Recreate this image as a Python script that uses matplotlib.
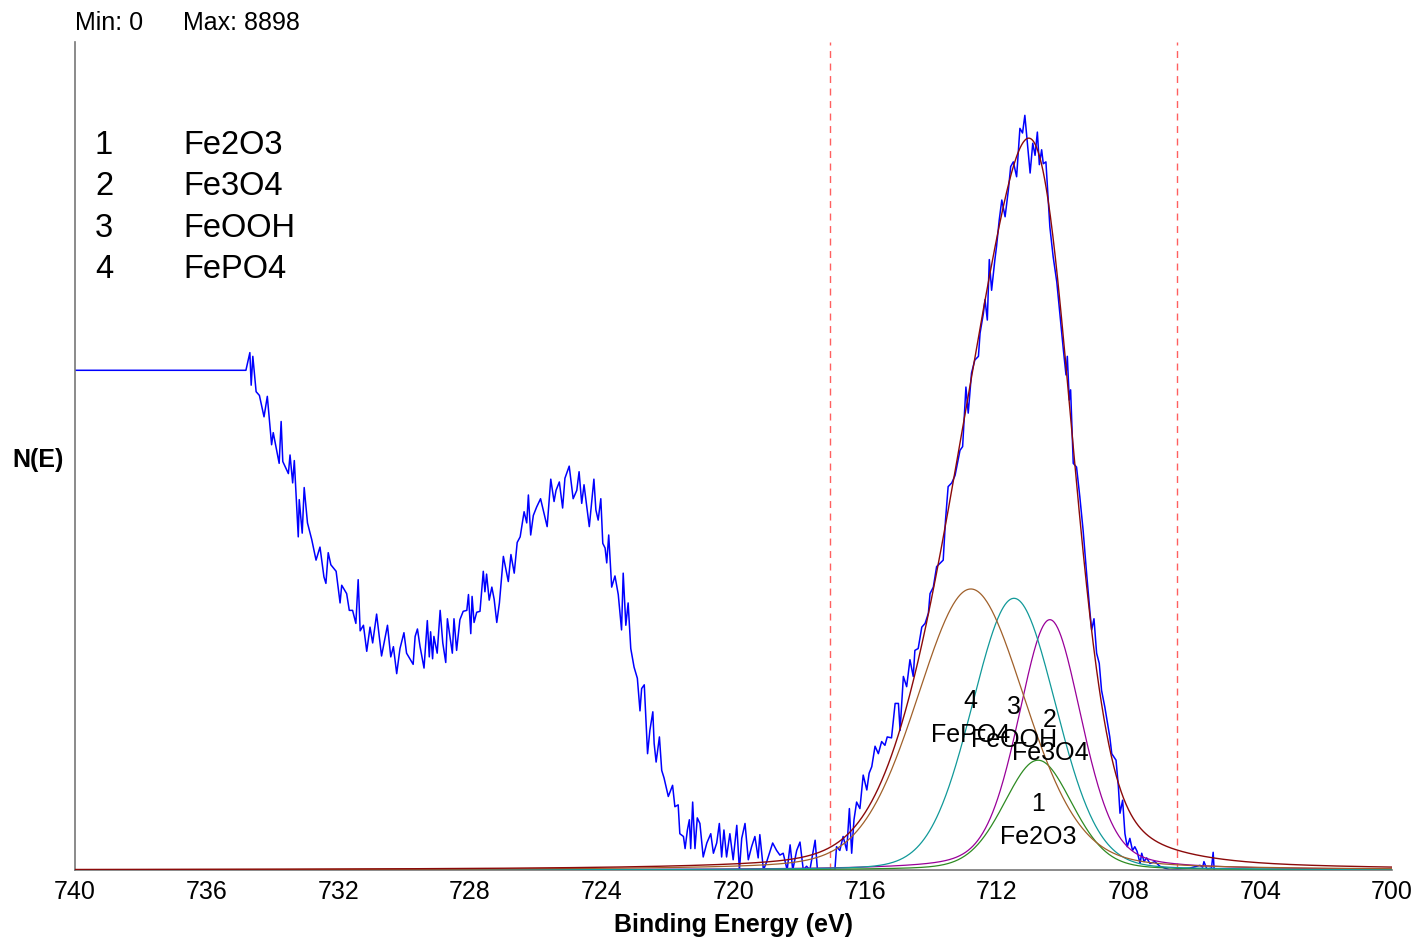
import numpy as np
import matplotlib
matplotlib.use("Agg")
import matplotlib.pyplot as plt

plt.rcParams['font.family'] = ['Liberation Sans', 'DejaVu Sans']

# measured spectrum (binding energy in eV, counts)
be = [740.0, 734.85, 734.81, 734.69, 734.65, 734.60, 734.50, 734.40, 734.26, 734.16, 734.03, 733.98,
      733.80, 733.74, 733.69, 733.52, 733.47, 733.39, 733.34, 733.22, 733.19, 733.10, 733.04, 732.94,
      732.81, 732.68, 732.56, 732.44, 732.38, 732.31, 732.23, 732.07, 731.95, 731.90, 731.75, 731.67,
      731.57, 731.47, 731.40, 731.34, 731.24, 731.14, 731.04, 730.96, 730.84, 730.69, 730.51, 730.41,
      730.33, 730.23, 730.13, 730.01, 729.93, 729.73, 729.67, 729.60, 729.52, 729.40, 729.30, 729.24,
      729.20, 729.14, 729.10, 729.00, 728.91, 728.83, 728.74, 728.69, 728.54, 728.49, 728.41, 728.31,
      728.21, 728.10, 728.05, 727.98, 727.94, 727.88, 727.80, 727.70, 727.60, 727.55, 727.50, 727.42,
      727.34, 727.27, 727.19, 727.11, 726.99, 726.84, 726.76, 726.66, 726.57, 726.48, 726.36, 726.28,
      726.23, 726.16, 726.08, 725.98, 725.86, 725.66, 725.55, 725.45, 725.39, 725.29, 725.19, 725.12,
      724.99, 724.87, 724.76, 724.69, 724.61, 724.54, 724.38, 724.24, 724.18, 724.11, 724.03, 723.97,
      723.90, 723.85, 723.79, 723.70, 723.60, 723.50, 723.40, 723.35, 723.27, 723.20, 723.12, 723.02,
      722.92, 722.84, 722.79, 722.71, 722.61, 722.54, 722.45, 722.41, 722.35, 722.25, 722.18, 722.11,
      721.98, 721.85, 721.78, 721.68, 721.63, 721.52, 721.47, 721.40, 721.34, 721.30, 721.24, 721.17,
      721.10, 721.02, 720.92, 720.81, 720.69, 720.61, 720.51, 720.43, 720.36, 720.29, 720.21, 720.11,
      720.01, 719.90, 719.82, 719.75, 719.65, 719.55, 719.45, 719.35, 719.25, 719.20, 719.09, 718.99,
      718.81, 718.69, 718.59, 718.49, 718.37, 718.28, 718.20, 718.08, 717.98, 717.88, 717.78, 717.68,
      717.52, 717.45, 716.92, 716.87, 716.77, 716.67, 716.56, 716.48, 716.41, 716.34, 716.26, 716.16,
      716.06, 715.95, 715.88, 715.80, 715.70, 715.60, 715.50, 715.40, 715.33, 715.20, 715.09, 714.99,
      714.94, 714.84, 714.74, 714.64, 714.54, 714.49, 714.39, 714.28, 714.18, 714.08, 714.03, 713.93,
      713.83, 713.63, 713.56, 713.48, 713.37, 713.27, 713.12, 713.04, 712.94, 712.87, 712.77, 712.67,
      712.56, 712.51, 712.41, 712.36, 712.29, 712.23, 712.16, 712.06, 712.01, 711.93, 711.85, 711.75,
      711.65, 711.58, 711.50, 711.40, 711.30, 711.22, 711.15, 711.08, 710.99, 710.91, 710.84, 710.77,
      710.71, 710.64, 710.59, 710.51, 710.39, 710.29, 710.18, 710.08, 709.98, 709.90, 709.86, 709.80,
      709.76, 709.68, 709.58, 709.48, 709.38, 709.27, 709.17, 709.12, 709.05, 708.97, 708.89, 708.82,
      708.72, 708.57, 708.51, 708.38, 708.31, 708.26, 708.18, 708.11, 708.04, 707.96, 707.88, 707.81,
      707.74, 707.65, 707.60, 707.53, 707.45, 707.35, 707.20, 707.05, 706.74, 706.14, 705.83, 705.75,
      705.71, 705.62, 705.48, 705.43, 705.40]
counts = [5370, 5370, 5370, 5560, 5210, 5520, 5140, 5100, 4870, 5090, 4570, 4700,
          4370, 4820, 4390, 4260, 4460, 4160, 4400, 3580, 3980, 3620, 4110, 3730,
          3550, 3330, 3470, 3150, 3080, 3410, 3280, 3210, 2870, 3060, 2970, 2790,
          2790, 2650, 3120, 2570, 2630, 2350, 2610, 2440, 2750, 2300, 2630, 2290,
          2400, 2110, 2380, 2550, 2330, 2210, 2510, 2590, 2400, 2170, 2680, 2290,
          2560, 2270, 2510, 2330, 2790, 2440, 2230, 2700, 2330, 2700, 2360, 2690,
          2780, 2790, 2960, 2540, 2940, 2660, 2770, 2780, 3210, 2990, 3180, 2900,
          3040, 2910, 2660, 2870, 3370, 3100, 3390, 3190, 3520, 3580, 3850, 3730,
          4030, 3600, 3810, 3900, 3990, 3690, 4200, 3960, 4080, 4170, 3890, 4210,
          4340, 3990, 4080, 4280, 3940, 4140, 3690, 4200, 3870, 3760, 3990, 3510,
          3460, 3300, 3600, 3040, 3160, 2960, 2580, 3190, 2630, 2870, 2380, 2180,
          2060, 1710, 1950, 1990, 1250, 1500, 1700, 1360, 1160, 1430, 1070, 990,
          790, 910, 680, 700, 390, 360, 230, 430, 540, 230, 730, 230,
          560, 500, 140, 290, 390, 180, 290, 500, 140, 430, 140, 390,
          110, 480, 0, 340, 500, 110, 250, 360, 130, 380, 0, 90,
          290, 210, 160, 180, 0, 270, 0, 210, 300, 0, 40, 0,
          320, 0, 0, 250, 210, 360, 210, 660, 180, 540, 730, 660,
          1020, 860, 1040, 1110, 1330, 1250, 1380, 1340, 1430, 1420, 1790, 1790,
          1500, 2080, 1970, 2260, 2080, 2360, 2380, 2610, 2650, 2760, 2970, 3040,
          3260, 3330, 3760, 4120, 4160, 4240, 4510, 4550, 5190, 4910, 5340, 5480,
          5520, 5770, 5980, 6130, 5910, 6560, 6230, 6560, 6700, 6980, 7200, 7020,
          7310, 7560, 7610, 7450, 7970, 7920, 8110, 7840, 7490, 7810, 7680, 7930,
          7580, 7740, 7590, 7610, 6910, 6590, 6320, 5950, 5590, 5320, 5520, 5050,
          5160, 4370, 4330, 4010, 3650, 3170, 2760, 2580, 2700, 2330, 2220, 1930,
          1750, 1430, 1250, 1180, 900, 610, 750, 390, 250, 340, 210, 250,
          200, 70, 180, 90, 130, 70, 90, 40, 0, 20, 50, 30,
          90, 10, 20, 190, 0]

# fitted components
names = ["Fe2O3", "Fe3O4", "FeOOH", "FePO4"]
centers = [710.75, 710.39, 711.48, 712.79]
heights = [1180, 2690, 2920, 3020]
fwhm = [2.45, 2.28, 3.0, 3.9]
lor_frac = [0.2, 0.3, 0.1, 0.2]
comp_colors = ["#2e8b22", "#990099", "#119999", "#a0602a"]

# background under the envelope (center, height, fwhm, lorentzian fraction)
bg_peak = [710.2, 170, 5.5, 0.0]

region = [717.07, 706.53]
y_max = 8898


def gl(x, c, h, w, m):
    t = (x - c) / w
    return h * ((1 - m) * np.exp(-4 * np.log(2) * t ** 2) + m / (1 + 4 * t ** 2))


fig = plt.figure(figsize=(14.16, 9.44), dpi=100)
ax = fig.add_axes([0.053, 0.0784, 0.930, 0.8771])

ax.plot(be, counts, color="#0000ff", lw=1.1, zorder=2)

xe = np.linspace(740, 700, 1601)
envelope = gl(xe, *bg_peak)
for i in range(len(names)):
    yc = gl(xe, centers[i], heights[i], fwhm[i], lor_frac[i])
    envelope += yc
    ax.plot(xe, yc, color=comp_colors[i], lw=0.9, zorder=3)
    ax.text(centers[i], heights[i] * 0.6, str(i + 1), ha="center", va="center",
            fontsize=18, zorder=5)
    ax.annotate(names[i], (centers[i], heights[i] * 0.6), xytext=(0, -24),
                textcoords="offset points", ha="center", va="center",
                fontsize=18, zorder=5)
ax.plot(xe, envelope, color="#8b0a0a", lw=1.0, zorder=4)

for r in region:
    ax.axvline(r, color="#ff6060", lw=1.0, ls=(0, (5, 4)), zorder=1)

for i in range(len(names)):
    ax.text(0.022, 0.875 - i * 0.0499, str(i + 1), transform=ax.transAxes,
            ha="center", va="center", fontsize=23.5)
    ax.text(0.082, 0.875 - i * 0.0499, names[i], transform=ax.transAxes,
            ha="left", va="center", fontsize=23.5)

ax.set_xlim(740, 700)
ax.set_ylim(0, y_max)
ax.set_xticks(np.arange(740, 699, -4))
ax.set_yticks([])
ax.tick_params(axis="x", length=0, pad=7, labelsize=18)
for s in ["top", "right"]:
    ax.spines[s].set_visible(False)
for s in ["left", "bottom"]:
    ax.spines[s].set_color("#777777")
    ax.spines[s].set_linewidth(1.2)
ax.set_xlabel("Binding Energy (eV)", fontsize=18, fontweight="bold", labelpad=7)

fig.text(38 / 1416, 1 - 460 / 944, "N(E)", ha="center", va="center",
         fontsize=18, fontweight="bold")
fig.text(75 / 1416, 1 - 23 / 944, "Min: 0", ha="left", va="center", fontsize=18)
fig.text(183 / 1416, 1 - 23 / 944, "Max: %d" % y_max, ha="left", va="center", fontsize=18)

fig.savefig("out.png", dpi=100)
